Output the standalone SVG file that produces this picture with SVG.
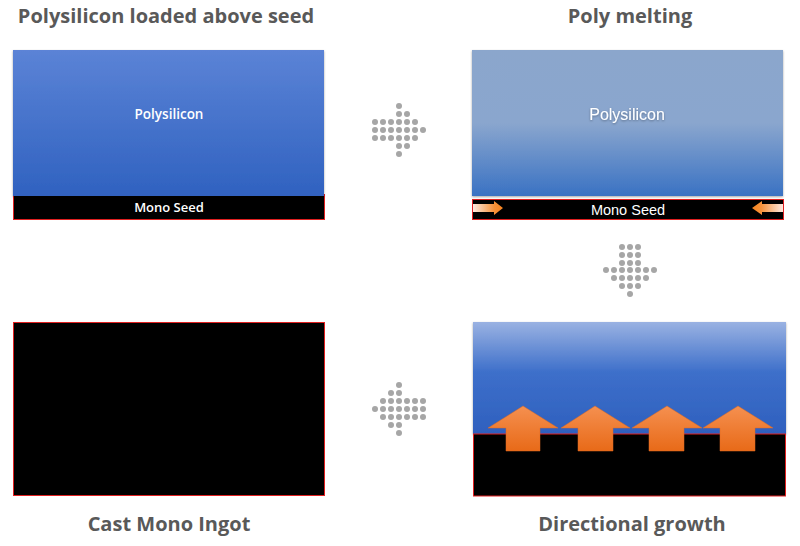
<svg xmlns="http://www.w3.org/2000/svg" width="800" height="546" viewBox="0 0 800 546">
<style>
.title{font-family:"Open Sans","Liberation Sans",sans-serif;font-weight:bold;font-size:20px;fill:#595959;text-anchor:middle}
.lbl{font-family:"Open Sans","Liberation Sans",sans-serif;fill:#fff;text-anchor:middle}
.lbl2{font-family:"Liberation Sans",Arial,sans-serif;fill:#fff;text-anchor:middle}
.dot{fill:#a6a6a6}
.seed{fill:#000;stroke:#e02020;stroke-width:1}
.grow{fill:url(#orange);stroke:#e06a20;stroke-width:0.5}
</style>
<defs>
<linearGradient id="poly1" x1="0" y1="0" x2="0" y2="1">
<stop offset="0" stop-color="#5b83d6"/>
<stop offset="1" stop-color="#3062c0"/>
</linearGradient>
<linearGradient id="poly2" x1="0" y1="0" x2="0" y2="1">
<stop offset="0" stop-color="#8ba6cc"/>
<stop offset="0.5" stop-color="#8aa6ce"/>
<stop offset="1" stop-color="#3a72c3"/>
</linearGradient>
<linearGradient id="poly3" x1="0" y1="0" x2="0" y2="1">
<stop offset="0" stop-color="#9ab2e2"/>
<stop offset="0.45" stop-color="#3d6fca"/>
<stop offset="1" stop-color="#2f60be"/>
</linearGradient>
<linearGradient id="orange" x1="0" y1="0" x2="0" y2="1">
<stop offset="0" stop-color="#f59050"/>
<stop offset="1" stop-color="#e86a18"/>
</linearGradient>
<linearGradient id="sideL" x1="0" y1="0" x2="1" y2="0">
<stop offset="0" stop-color="#fde8e0"/>
<stop offset="0.7" stop-color="#f7923a"/>
<stop offset="1" stop-color="#f7831e"/>
</linearGradient>
<linearGradient id="sideR" x1="1" y1="0" x2="0" y2="0">
<stop offset="0" stop-color="#fde8e0"/>
<stop offset="0.7" stop-color="#f7923a"/>
<stop offset="1" stop-color="#f7831e"/>
</linearGradient>
<filter id="sh" x="-10%" y="-10%" width="120%" height="130%">
<feDropShadow dx="0" dy="1" stdDeviation="1" flood-color="#000" flood-opacity="0.35"/>
</filter>
</defs>

<g id="step1">
<text class="title" x="166" y="23">Polysilicon loaded above seed</text>
<rect class="seed" x="13.5" y="194.5" width="311" height="25"/>
<rect x="13" y="50" width="311" height="146" fill="url(#poly1)" filter="url(#sh)"/>
<text class="lbl" x="169" y="119" font-size="13.5" font-weight="600">Polysilicon</text>
<text class="lbl" x="169" y="212" font-size="13" font-weight="600">Mono Seed</text>
</g>

<g id="step2">
<text class="title" x="630" y="23">Poly melting</text>
<rect x="472" y="50" width="311" height="146" fill="url(#poly2)" filter="url(#sh)"/>
<text class="lbl2" x="627" y="120" font-size="16" filter="url(#sh)">Polysilicon</text>
<rect class="seed" x="472.5" y="199.5" width="311" height="20"/>
<text class="lbl2" x="628" y="215" font-size="14.5">Mono Seed</text>
<polygon points="473,204 494,204 494,201 503,208 494,215 494,212 473,212" fill="url(#sideL)"/>
<polygon points="783,204 762,204 762,201 752,208 762,215 762,212 783,212" fill="url(#sideR)"/>
</g>

<g id="step3">
<rect x="473" y="322" width="313" height="112" fill="url(#poly3)" filter="url(#sh)"/>
<rect class="seed" x="473.5" y="434" width="312" height="62"/>
<polygon class="grow" points="523,406 558,428 540,428 540,451 506,451 506,428 488,428"/>
<polygon class="grow" points="595,406 630,428 613,428 613,451 578,451 578,428 561,428"/>
<polygon class="grow" points="667,406 702,428 684,428 684,451 649,451 649,428 632,428"/>
<polygon class="grow" points="738,406 773,428 755,428 755,451 720,451 720,428 703,428"/>
<text class="title" x="632" y="531">Directional growth</text>
</g>

<g id="step4">
<rect class="seed" x="13.5" y="322.5" width="311" height="173"/>
<text class="title" x="169" y="531">Cast Mono Ingot</text>
</g>

<g id="connectors">
<g id="arrow-right" class="dot">
<circle cx="375" cy="122" r="3"/><circle cx="383" cy="122" r="3"/><circle cx="391" cy="122" r="3"/>
<circle cx="375" cy="130" r="3"/><circle cx="383" cy="130" r="3"/><circle cx="391" cy="130" r="3"/>
<circle cx="375" cy="138" r="3"/><circle cx="383" cy="138" r="3"/><circle cx="391" cy="138" r="3"/>
<circle cx="399" cy="106" r="3"/><circle cx="399" cy="114" r="3"/><circle cx="399" cy="122" r="3"/><circle cx="399" cy="130" r="3"/><circle cx="399" cy="138" r="3"/><circle cx="399" cy="146" r="3"/><circle cx="399" cy="154" r="3"/>
<circle cx="407" cy="114" r="3"/><circle cx="407" cy="122" r="3"/><circle cx="407" cy="130" r="3"/><circle cx="407" cy="138" r="3"/><circle cx="407" cy="146" r="3"/>
<circle cx="415" cy="122" r="3"/><circle cx="415" cy="130" r="3"/><circle cx="415" cy="138" r="3"/>
<circle cx="423" cy="130" r="3"/>
</g>
<g id="arrow-down" class="dot">
<circle cx="622" cy="247" r="3"/><circle cx="630" cy="247" r="3"/><circle cx="638" cy="247" r="3"/>
<circle cx="622" cy="255" r="3"/><circle cx="630" cy="255" r="3"/><circle cx="638" cy="255" r="3"/>
<circle cx="622" cy="263" r="3"/><circle cx="630" cy="263" r="3"/><circle cx="638" cy="263" r="3"/>
<circle cx="606" cy="270" r="3"/><circle cx="614" cy="270" r="3"/><circle cx="622" cy="270" r="3"/><circle cx="630" cy="270" r="3"/><circle cx="638" cy="270" r="3"/><circle cx="646" cy="270" r="3"/><circle cx="654" cy="270" r="3"/>
<circle cx="614" cy="278" r="3"/><circle cx="622" cy="278" r="3"/><circle cx="630" cy="278" r="3"/><circle cx="638" cy="278" r="3"/><circle cx="646" cy="278" r="3"/>
<circle cx="622" cy="286" r="3"/><circle cx="630" cy="286" r="3"/><circle cx="638" cy="286" r="3"/>
<circle cx="630" cy="294" r="3"/>
</g>
<g id="arrow-left" class="dot">
<circle cx="375" cy="409" r="3"/>
<circle cx="383" cy="401" r="3"/><circle cx="383" cy="409" r="3"/><circle cx="383" cy="417" r="3"/>
<circle cx="391" cy="393" r="3"/><circle cx="391" cy="401" r="3"/><circle cx="391" cy="409" r="3"/><circle cx="391" cy="417" r="3"/><circle cx="391" cy="425" r="3"/>
<circle cx="399" cy="385" r="3"/><circle cx="399" cy="393" r="3"/><circle cx="399" cy="401" r="3"/><circle cx="399" cy="409" r="3"/><circle cx="399" cy="417" r="3"/><circle cx="399" cy="425" r="3"/><circle cx="399" cy="433" r="3"/>
<circle cx="407" cy="401" r="3"/><circle cx="407" cy="409" r="3"/><circle cx="407" cy="417" r="3"/>
<circle cx="415" cy="401" r="3"/><circle cx="415" cy="409" r="3"/><circle cx="415" cy="417" r="3"/>
<circle cx="423" cy="401" r="3"/><circle cx="423" cy="409" r="3"/><circle cx="423" cy="417" r="3"/>
</g>
</g>
</svg>
